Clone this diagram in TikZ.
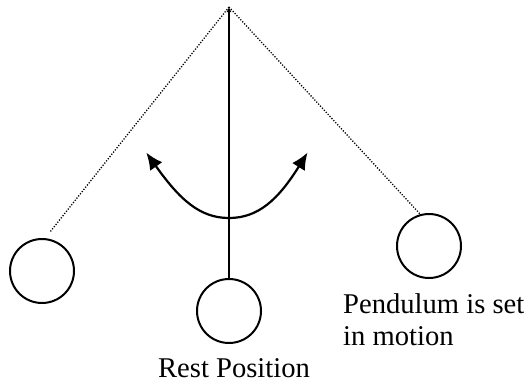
\documentclass[tikz,border=0pt]{standalone}
\usepackage{fontspec}
\setmainfont{Liberation Serif}
\usetikzlibrary{arrows.meta}
\begin{document}
\begin{tikzpicture}[x=1pt,y=-1pt,
  bob/.style={draw, line width=2pt, circle, minimum size=64pt, inner sep=0pt},
  swing/.style={line width=1.3pt, dash pattern=on 1.2pt off 1.6pt},
  rod/.style={line width=2pt},
  motion/.style={line width=2.2pt, -{Latex[length=17pt,width=15pt]}, shorten >=-3pt},
  lbl/.style={inner sep=0pt, font=\fontsize{28.6}{32}\selectfont}]
\useasboundingbox (0,0) rectangle (532,386);
\coordinate (pivot) at (229,7);
\node[bob] (left) at (42,271) {};
\node[bob] (mid) at (229,311) {};
\node[bob] (right) at (429,246) {};
\coordinate (lend) at (50,232);
\coordinate (rend) at (420,214);
\draw[swing] (pivot) -- (lend);
\draw[swing] (pivot) -- (rend);
\draw[rod, -{Latex[length=5pt,width=5pt]}] (mid.north) -- (pivot);
\coordinate (bottom) at (229,218);
\coordinate (ltip) at (148,155);
\coordinate (rtip) at (306,155);
\draw[motion] (bottom) .. controls (200,218) and (180,200) .. (ltip);
\draw[motion] (bottom) .. controls (258,218) and (278,200) .. (rtip);
\node[lbl, anchor=base] (rest) at (234,377) {Rest Position};
\node[lbl, anchor=base west] (set1) at (343,313) {Pendulum is set};
\node[lbl, anchor=base west] (set2) at (343,345) {in motion};
\end{tikzpicture}
\end{document}
